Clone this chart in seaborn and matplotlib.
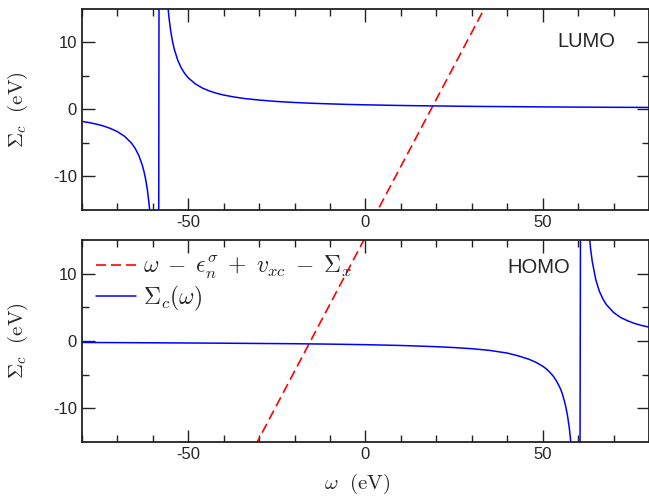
import matplotlib
matplotlib.use("Agg")
import matplotlib.pyplot as plt
import seaborn as sns
import pandas as pd

# LUMO panel: Sigma_c(omega), pole near -58 eV
lumo_w = [-80, -78, -76, -74, -72, -70, -68, -66, -65, -64, -63, -62.5, -62,
          -61.5, -61, -60.5, -60, -59.5, -59, -58.6,
          -58.0, -57.6, -57.2, -56.8, -56.4, -56, -55.5, -55, -54.5, -54, -53,
          -52, -51, -50, -48, -46, -44, -42, -40, -37, -34, -30, -25, -20, -15,
          -10, -5, 0, 10, 20, 30, 40, 50, 60, 70, 80]
lumo_sig = [-1.80, -1.98, -2.20, -2.48, -2.85, -3.33, -4.02, -5.06, -5.82, -6.84,
            -8.30, -9.29, -10.54, -12.19, -14.44, -17.73, -22.9, -32.5, -55.7, -130,
            130, 55.7, 35.5, 26.0, 20.5, 16.96, 13.93, 11.82, 10.26, 9.07, 7.36,
            6.19, 5.34, 4.70, 3.79, 3.17, 2.73, 2.39, 2.13, 1.83, 1.60, 1.38, 1.17,
            1.02, 0.90, 0.81, 0.73, 0.67, 0.57, 0.50, 0.44, 0.40, 0.36, 0.33, 0.30,
            0.28]
lumo_line_w = [-80, 80]
lumo_line = [-98.5, 61.5]

# HOMO panel: Sigma_c(omega), pole near 60.6 eV
homo_w = [-80, -60, -40, -20, -10, 0, 10, 20, 25, 30, 35, 40, 43, 46, 48, 50,
          51, 52, 53, 54, 55, 55.5, 56, 56.5, 57, 57.5, 58, 58.5, 59, 59.6, 60.2,
          61.0, 61.5, 62, 62.5, 63, 63.5, 64, 65, 66, 67, 68, 70, 72, 74, 76, 78,
          80]
homo_sig = [-0.22, -0.27, -0.33, -0.41, -0.47, -0.55, -0.67, -0.85, -0.98, -1.15,
            -1.4, -1.8, -2.2, -2.7, -3.15, -3.75, -4.15, -4.65, -5.25, -6.05, -7.1,
            -7.8, -8.7, -9.75, -11.1, -12.9, -15.4, -19, -25, -40, -100,
            100, 44, 28.6, 21, 16.7, 13.8, 11.8, 9.1, 7.4, 6.25, 5.4, 4.25, 3.5,
            3.0, 2.6, 2.3, 2.06]
homo_line_w = [-80, 80]
homo_line = [-64.5, 95.5]

sns.set_style("ticks")
plt.rcParams["font.family"] = ["Liberation Sans", "DejaVu Sans"]
plt.rcParams["mathtext.fontset"] = "cm"
plt.rcParams["axes.unicode_minus"] = False

fig = plt.figure(figsize=(6.49, 4.98), dpi=100)
ax1 = fig.add_axes([0.1263, 0.5787, 0.8737, 0.4036])
ax2 = fig.add_axes([0.1263, 0.1131, 0.8737, 0.4044])

line_lab = r"$\omega \;-\; \epsilon_n^\sigma \;+\; v_{xc} \;-\; \Sigma_x$"
sig_lab = r"$\Sigma_c(\omega)$"

for ax, lw_, lv, sw, sv in [(ax1, lumo_line_w, lumo_line, lumo_w, lumo_sig),
                            (ax2, homo_line_w, homo_line, homo_w, homo_sig)]:
    d1 = pd.DataFrame({"w": lw_, "v": lv})
    d2 = pd.DataFrame({"w": sw, "v": sv})
    sns.lineplot(data=d1, x="w", y="v", ax=ax, color="#ff0000", lw=1.2,
                 linestyle=(0, (6, 3)), sort=False, estimator=None, label=line_lab)
    sns.lineplot(data=d2, x="w", y="v", ax=ax, color="#0000ff", lw=1.1,
                 sort=False, estimator=None, label=sig_lab)
    ax.set_xlim(-80, 80)
    ax.set_ylim(-15, 15)
    ax.set_xticks([-50, 0, 50])
    ax.set_xticks(range(-80, 81, 10), minor=True)
    ax.set_yticks([-10, 0, 10])
    ax.set_yticks([-5, 5], minor=True)
    ax.tick_params(which="both", direction="in", top=True, right=True,
                   labelsize=12, width=1.0, color="#222222")
    ax.tick_params(which="major", length=9)
    ax.tick_params(which="minor", length=5)
    for s in ax.spines.values():
        s.set_linewidth(1.3)
        s.set_color("#222222")
    ax.set_ylabel(r"$\Sigma_c\ \ (\mathrm{eV})$", fontsize=15)
    ax.yaxis.set_label_coords(-0.092, 0.5)
    ax.set_xlabel("")

ax1.tick_params(labelbottom=True)
ax1.get_legend().remove()
ax1.text(0.889, 0.835, "LUMO", transform=ax1.transAxes, fontsize=14.5,
         ha="center", va="center")
ax2.text(0.806, 0.867, "HOMO", transform=ax2.transAxes, fontsize=14.5,
         ha="center", va="center")

ax2.legend(loc="upper left", bbox_to_anchor=(0.0, 1.0), frameon=False,
           fontsize=17, handlelength=1.7, handletextpad=0.3,
           labelspacing=0.1, borderaxespad=0.2)
ax2.set_xlabel(r"$\omega\ \ (\mathrm{eV})$", fontsize=15)
ax2.xaxis.set_label_coords(0.486, -0.15)

fig.savefig("out.png", dpi=100)
